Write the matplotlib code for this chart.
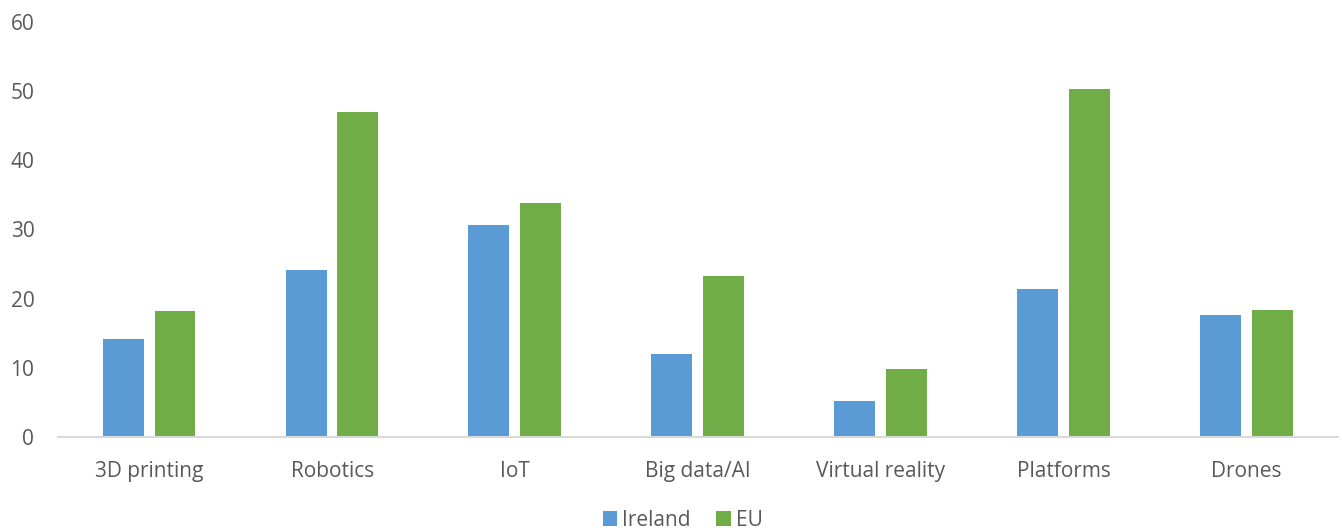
import matplotlib.pyplot as plt
import numpy as np

plt.rcParams['font.family'] = ['Open Sans', 'DejaVu Sans']

categorias = ['3D printing', 'Robotics', 'IoT', 'Big data/AI', 'Virtual reality', 'Platforms', 'Drones']
ireland = [14.1, 24.1, 30.7, 12.0, 5.2, 21.4, 17.6]
eu = [18.2, 47.0, 33.8, 23.3, 9.9, 50.3, 18.4]
yticks = [0, 10, 20, 30, 40, 50, 60]

texto = '#595959'

fig = plt.figure(figsize=(13.42, 5.31), dpi=100)
ax = fig.add_axes([0.0432, 0.177, 0.9538, 0.7816])

x = np.arange(len(categorias))
ancho = 0.224
ax.bar(x - 0.143, ireland, ancho, color='#5B9BD5', label='Ireland')
ax.bar(x + 0.140, eu, ancho, color='#70AD47', label='EU')

ax.set_xlim(-0.5, len(categorias) - 0.5)
ax.set_ylim(0, 60)
ax.set_yticks(yticks)
ax.set_xticks(x)
ax.set_xticklabels(categorias)

for lado in ['top', 'right', 'left']:
    ax.spines[lado].set_visible(False)
ax.spines['bottom'].set_color('#D9D9D9')
ax.spines['bottom'].set_linewidth(1.5)

ax.tick_params(axis='both', length=0, labelsize=15, colors=texto)
ax.tick_params(axis='x', pad=17)
ax.tick_params(axis='y', pad=17)

leg = ax.legend(loc='upper center', bbox_to_anchor=(0.488, -0.145), ncol=2, frameon=False,
                fontsize=15, handlelength=0.7, handleheight=0.7, handletextpad=0.25,
                columnspacing=1.2, borderpad=0.1)
for t in leg.get_texts():
    t.set_color(texto)

fig.savefig('out.png', dpi=100)
